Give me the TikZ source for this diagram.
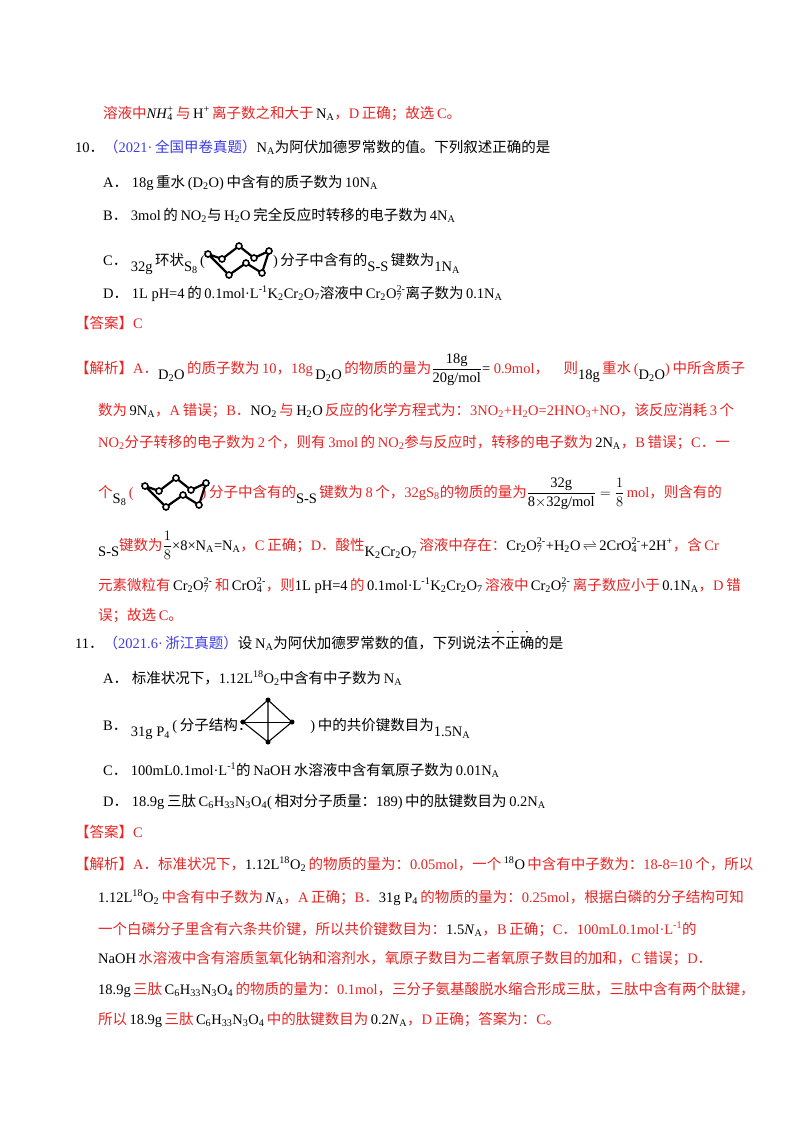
\documentclass[tikz,border=0pt]{standalone}
\usepackage{fontspec}
\usepackage{amsmath}
\setmainfont{Liberation Serif}
\newfontfamily\cjk{Noto Sans CJK SC}
\XeTeXinterchartokenstate=1
\newXeTeXintercharclass\cjkcls
\newXeTeXintercharclass\cjkpun
\newcount\cc
\def\setrange#1#2#3{\cc=#1 \loop \XeTeXcharclass\cc=#3 \ifnum\cc<#2 \advance\cc by 1 \repeat}
\setrange{"3000}{"303F}\cjkpun
\setrange{"4E00}{"9FFF}\cjkcls
\setrange{"FF00}{"FFEF}\cjkpun
\XeTeXinterchartoks 0 \cjkcls = {\hskip0.18em\cjk}
\XeTeXinterchartoks 4095 \cjkcls = {\cjk}
\XeTeXinterchartoks \cjkcls 0 = {\rmfamily\hskip0.18em}
\XeTeXinterchartoks \cjkcls 4095 = {\rmfamily}
\XeTeXinterchartoks 0 \cjkpun = {\cjk}
\XeTeXinterchartoks 4095 \cjkpun = {\cjk}
\XeTeXinterchartoks \cjkpun 0 = {\rmfamily}
\XeTeXinterchartoks \cjkpun 4095 = {\rmfamily}
\definecolor{myred}{RGB}{232,36,36}
\definecolor{myblue}{RGB}{60,60,230}
\newcommand\K[1]{{\color{black}#1}}
\newcommand\sbb[1]{\textsubscript{#1}}
\newcommand\SSb[2]{\setbox0\hbox{\textsuperscript{#1}}\setbox2\hbox{\textsubscript{#2}}\ifdim\wd0>\wd2 \wd2=\wd0\fi\rlap{\copy0}\box2}
\newcommand\dt[1]{\leavevmode\rlap{\makebox[1em]{\raisebox{0.9em}{\fontsize{7}{7}\selectfont •}}}#1}
\newcommand\low[1]{\raisebox{-6pt}{#1}}
\tikzset{ln/.style={anchor=base west, inner sep=0pt, font=\fontsize{14.5}{16}\selectfont},
 rd/.style={ln, text=myred},
 bond/.style={line width=2.2pt},
 atom/.style={circle, draw, line width=1.6pt, fill=white, inner sep=0pt, minimum size=6pt},
 patom/.style={circle, fill=black, inner sep=0pt, minimum size=5pt}}
\newcommand\sring[2]{\begin{scope}[shift={(#1,#2)}]
 \coordinate (r1) at (0,0); \coordinate (r2) at (14,-5); \coordinate (r3) at (31,8); \coordinate (r4) at (46,-4);
 \coordinate (r5) at (61,3); \coordinate (r6) at (54,-19); \coordinate (r7) at (38,-9); \coordinate (r8) at (21,-21);
 \draw[bond] (r1)--(r2)--(r3)--(r4)--(r5)--(r6)--(r7)--(r8)--cycle;
 \foreach \p in {r1,r2,r3,r4,r5,r6,r7,r8} \node[atom] at (\p) {};
 \end{scope}}
\begin{document}
\begin{tikzpicture}[x=1pt,y=1pt]
\useasboundingbox[fill=white] (0,0) rectangle (800,-1132);
\node[rd] (l1) at (103,-118) {溶液中\K{\textit{NH}\SSb{+}{4}}\,与\,\K{H\textsuperscript{+}}\,离子数之和大于\,\K{N\sbb{A}}，D正确；故选C。};
\node[ln] (q10) at (75,-152) {10．{\color{myblue}（2021·全国甲卷真题）}N\sbb{A}为阿伏加德罗常数的值。下列叙述正确的是};
\node[ln] (a10) at (103,-187) {A．\ 18g重水(D\sbb{2}O)中含有的质子数为10N\sbb{A}};
\node[ln] (b10) at (103,-220) {B．\ 3mol的NO\sbb{2}与H\sbb{2}O完全反应时转移的电子数为4N\sbb{A}};
\node[ln] (c10) at (103,-265) {C．\ \low{32g}\,环状\low{S\sbb{8}}\,(\hspace{68pt})分子中含有的\low{S-S}\,键数为\low{1N\sbb{A}}};
\sring{208}{-254}
\node[ln] (d10) at (103,-298) {D．\ 1L pH=4的0.1mol·L\textsuperscript{-1}K\sbb{2}Cr\sbb{2}O\sbb{7}溶液中Cr\sbb{2}O\SSb{2-}{7}离子数为0.1N\sbb{A}};
\node[rd] (ans10) at (75,-328) {【答案】C};
\node[rd] (j1) at (75,-373) {【解析】A．\K{\low{D\sbb{2}O}}\,的质子数为10，18g\,\K{\low{D\sbb{2}O}}\,的物质的量为\K{$\dfrac{\mbox{18g}}{\mbox{20g/mol}}$=}\ 0.9mol，\quad 则\K{\low{18g}}\,重水(\K{\low{D\sbb{2}O}})中所含质子};
\node[rd] (j2) at (98,-415) {数为\,\K{9N\sbb{A}}，A错误；B．\K{NO\sbb{2}}\,与\,\K{H\sbb{2}O}\,反应的化学方程式为：3NO\sbb{2}+H\sbb{2}O=2HNO\sbb{3}+NO，该反应消耗3个};
\node[rd] (j3) at (98,-447) {NO\sbb{2}分子转移的电子数为2个，则有3mol的NO\sbb{2}参与反应时，转移的电子数为\,\K{2N\sbb{A}}，B错误；C．一};
\node[rd] (j4) at (98,-497) {个\K{\low{S\sbb{8}}}\,(\hspace{68pt})分子中含有的\K{\low{S-S}}\,键数为8个，32gS\sbb{8}的物质的量为\K{$\dfrac{\mbox{32g}}{\mbox{8$\times$32g/mol}}=\dfrac{1}{8}$}\,mol，则含有的};
\sring{145}{-486}
\node[rd] (j5) at (98,-550) {\K{\low{S-S}}键数为\K{$\dfrac{1}{8}$×8×N\sbb{A}=N\sbb{A}}，C正确；D．酸性\K{\low{K\sbb{2}Cr\sbb{2}O\sbb{7}}}\,溶液中存在：\K{Cr\sbb{2}O\SSb{2-}{7}+H\sbb{2}O\,$\rightleftharpoons$\,2CrO\SSb{2-}{4}+2H\textsuperscript{+}}，含Cr};
\node[rd] (j6) at (98,-590) {元素微粒有\,\K{Cr\sbb{2}O\SSb{2-}{7}}\,和\,\K{CrO\SSb{2-}{4}}，则\K{1L pH=4}\,的\,\K{0.1mol·L\textsuperscript{-1}K\sbb{2}Cr\sbb{2}O\sbb{7}}\,溶液中\,\K{Cr\sbb{2}O\SSb{2-}{7}}\,离子数应小于\,\K{0.1N\sbb{A}}，D错};
\node[rd] (j7) at (98,-620) {误；故选C。};
\node[ln] (q11) at (75,-648) {11．{\color{myblue}（2021.6·浙江真题）}设N\sbb{A}为阿伏加德罗常数的值，下列说法\dt{不}\dt{正}\dt{确}的是};
\node[ln] (a11) at (103,-683) {A．\ 标准状况下，1.12L\textsuperscript{18}O\sbb{2}中含有中子数为N\sbb{A}};
\node[ln] (b11) at (103,-730) {B．\ \low{31g P\sbb{4}}\,(分子结构：\hspace{58pt})中的共价键数目为\low{1.5N\sbb{A}}};
\coordinate (pt) at (268,-700); \coordinate (pl) at (243,-722); \coordinate (pr) at (292,-722); \coordinate (pb) at (268,-742);
\draw[line width=1.1pt] (pt)--(pl)--(pb)--(pr)--cycle (pt)--(pb);
\draw[line width=0.5pt] (pl)--(pr);
\foreach \p in {pt,pl,pr,pb} \node[patom] at (\p) {};
\node[ln] (c11) at (103,-775) {C．\ 100mL0.1mol·L\textsuperscript{-1}的NaOH水溶液中含有氧原子数为0.01N\sbb{A}};
\node[ln] (d11) at (103,-806) {D．\ 18.9g三肽C\sbb{6}H\sbb{33}N\sbb{3}O\sbb{4}(相对分子质量：189)中的肽键数目为0.2N\sbb{A}};
\node[rd] (ans11) at (75,-837) {【答案】C};
\node[rd] (k1) at (75,-869) {【解析】A．标准状况下，\K{1.12L\textsuperscript{18}O\sbb{2}}\,的物质的量为：0.05mol，一个\,\K{\textsuperscript{18}O}\,中含有中子数为：18-8=10个，所以};
\node[rd] (k2) at (98,-902) {\K{1.12L\textsuperscript{18}O\sbb{2}}\,中含有中子数为\,\K{\textit{N}\sbb{A}}，A正确；B．\K{31g P\sbb{4}}\,的物质的量为：0.25mol，根据白磷的分子结构可知};
\node[rd] (k3) at (98,-934) {一个白磷分子里含有六条共价键，所以共价键数目为：\K{1.5\textit{N}\sbb{A}}，B正确；C．100mL0.1mol·L\textsuperscript{-1}的};
\node[rd] (k4) at (98,-963) {\K{NaOH}\,水溶液中含有溶质氢氧化钠和溶剂水，氧原子数目为二者氧原子数目的加和，C错误；D．};
\node[rd] (k5) at (98,-994) {\K{18.9g}\,三肽\,\K{C\sbb{6}H\sbb{33}N\sbb{3}O\sbb{4}}\,的物质的量为：0.1mol，三分子氨基酸脱水缩合形成三肽，三肽中含有两个肽键，};
\node[rd] (k6) at (98,-1024) {所以\,\K{18.9g}\,三肽\,\K{C\sbb{6}H\sbb{33}N\sbb{3}O\sbb{4}}\,中的肽键数目为\,\K{0.2\textit{N}\sbb{A}}，D正确；答案为：C。};
\end{tikzpicture}
\end{document}
